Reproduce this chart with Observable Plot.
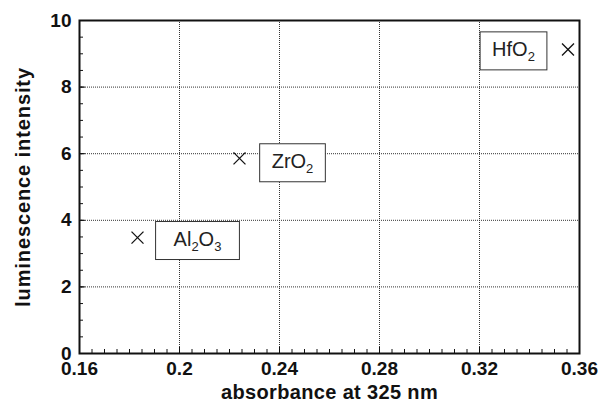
<!DOCTYPE html>
<html>
<head>
<meta charset="utf-8">
<script src="https://cdn.jsdelivr.net/npm/d3@7"></script>
<script src="https://cdn.jsdelivr.net/npm/@observablehq/plot@0.6"></script>
<style>
  html, body { margin: 0; padding: 0; background: white; }
  #chart { width: 609px; height: 410px; }
</style>
</head>
<body>
<div id="chart"></div>
<script>
// ---- data ----
const materials = ["Al2O3", "ZrO2", "HfO2"];
const absorbance = [0.1832, 0.224, 0.3554];
const luminescence = [3.48, 5.86, 9.13];

// ---- ticks ----
const xTicks = [0.16, 0.2, 0.24, 0.28, 0.32, 0.36];
const yTicks = [0, 2, 4, 6, 8, 10];
const xGrid = [0.2, 0.24, 0.28, 0.32];
const yGrid = [2, 4, 6, 8];
const xMinor = d3.range(0, 41).map(i => 0.16 + i * 0.005);
const yMinor = d3.range(0, 21).map(i => i * 0.5);

const xTitle = "absorbance at 325 nm";
const yTitle = "luminescence intensity";

// label placement (styling, pixels)
const labelOffsets = [{dx: 60, dy: 1.5, padX: 18}, {dx: 53, dy: 3, padX: 12}, {dx: -54.5, dy: 0, padX: 12}];

const points = materials.map((m, i) => ({material: m, x: absorbance[i], y: luminescence[i]}));

const gridStyle = {stroke: "#333", strokeWidth: 1, strokeDasharray: "1,1"};

const plot = Plot.plot({
  width: 609,
  height: 410,
  marginTop: 20,
  marginRight: 30,
  marginBottom: 57,
  marginLeft: 79,
  style: {fontFamily: "'Liberation Sans', Arial, Helvetica, sans-serif", background: "white", color: "#111"},
  x: {domain: [0.16, 0.36]},
  y: {domain: [0, 10]},
  marks: [
    Plot.ruleX(xGrid, {x: d => d, ...gridStyle}),
    Plot.ruleY(yGrid, {y: d => d, ...gridStyle}),
    // minor + major ticks (inward)
    Plot.ruleX(xMinor, {x: d => d, y1: 0, y2: 0, insetBottom: 4, stroke: "#111", strokeWidth: 1}),
    Plot.ruleX(xTicks, {x: d => d, y1: 0, y2: 0, insetBottom: 6, stroke: "#111", strokeWidth: 1}),
    Plot.ruleY(yMinor, {y: d => d, x1: 0.16, x2: 0.16, insetRight: -4, stroke: "#111", strokeWidth: 1}),
    Plot.ruleY(yTicks, {y: d => d, x1: 0.16, x2: 0.16, insetRight: -6, stroke: "#111", strokeWidth: 1}),
    Plot.dot(points, {x: "x", y: "y", symbol: "times", r: 5.5, stroke: "#111", strokeWidth: 1.3}),
    ...points.map((p, i) => Plot.text([p], {
      x: "x", y: "y", text: "material",
      dx: labelOffsets[i].dx, dy: labelOffsets[i].dy,
      fontSize: 20, fill: "#222", textAnchor: "middle"
    })),
    Plot.frame({stroke: "#111", strokeWidth: 2}),
    Plot.axisX(xTicks, {tickSize: 0, tickPadding: 8, fontSize: 19, fontWeight: "bold", tickFormat: d => String(d), label: null}),
    Plot.axisY(yTicks, {tickSize: 0, tickPadding: 8, fontSize: 19, fontWeight: "bold", tickFormat: d => String(d), label: null}),
    Plot.text([xTitle], {frameAnchor: "bottom", dy: 45, fontSize: 20, fontWeight: "bold", text: d => d}),
    Plot.text([yTitle], {frameAnchor: "left", textAnchor: "middle", rotate: -90, dx: -55.5, fontSize: 20, fontWeight: "bold", text: d => d})
  ]
});

document.getElementById("chart").append(plot);

// ---- post-process: chemical subscripts, label boxes, title spacing ----
const ns = "http://www.w3.org/2000/svg";
plot.querySelectorAll("text").forEach(t => {
  const s = t.textContent;
  if (s === xTitle) t.setAttribute("letter-spacing", "0.35");
  if (s === yTitle) t.setAttribute("letter-spacing", "0.9");
  const li = materials.indexOf(s);
  if (li < 0) return;
  t.textContent = "";
  let shifted = false;
  s.split(/(\d+)/).filter(p => p).forEach(p => {
    const ts = document.createElementNS(ns, "tspan");
    ts.textContent = p;
    if (/^\d+$/.test(p)) {
      ts.setAttribute("font-size", "13");
      ts.setAttribute("dy", "5");
      shifted = true;
    } else if (shifted) {
      ts.setAttribute("dy", "-5");
      shifted = false;
    }
    t.append(ts);
  });
  const bb = t.getBBox();
  const padX = labelOffsets[li].padX, padY = 6;
  const rect = document.createElementNS(ns, "rect");
  rect.setAttribute("x", bb.x - padX);
  rect.setAttribute("y", bb.y - padY);
  rect.setAttribute("width", bb.width + 2 * padX);
  rect.setAttribute("height", bb.height + 2 * padY);
  rect.setAttribute("fill", "white");
  rect.setAttribute("stroke", "#333");
  rect.setAttribute("stroke-width", "1");
  const tr = t.getAttribute("transform");
  if (tr) rect.setAttribute("transform", tr);
  t.parentNode.insertBefore(rect, t);
});
</script>
</body>
</html>
